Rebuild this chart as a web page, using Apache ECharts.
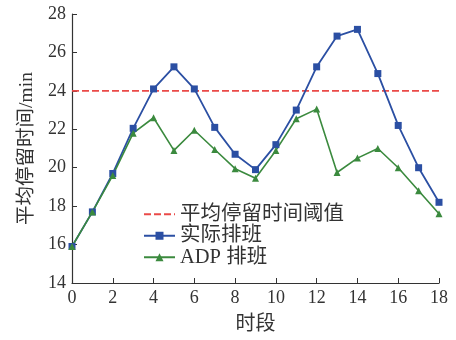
<!DOCTYPE html>
<html><head><meta charset="utf-8">
<script src="https://cdn.jsdelivr.net/npm/echarts@6/dist/echarts.min.js"></script>
<style>html,body{margin:0;padding:0;background:#fff}#c{width:456px;height:340px}</style>
</head><body><div id="c"></div>
<script>
const periods = [0,1,2,3,4,5,6,7,8,9,10,11,12,13,14,15,16,17,18];
const actual = [15.9,17.7,19.7,22.05,24.1,25.25,24.1,22.1,20.7,19.9,21.2,23.0,25.25,26.85,27.2,24.9,22.2,20.0,18.2];
const adp = [15.9,17.7,19.6,21.8,22.6,20.9,21.95,20.95,19.95,19.45,20.9,22.55,23.05,19.75,20.5,21.0,20.0,18.8,17.6];
const thresholdX = [0,18];
const thresholdY = [24,24];
const names = ['平均停留时间阈值','实际排班','ADP 排班'];
const font = '"Liberation Serif","Noto Sans CJK SC",serif';
const chart = echarts.init(document.getElementById('c'));
chart.setOption({
  animation:false,
  textStyle:{fontFamily:font},
  grid:{left:72,right:17,top:14,bottom:56},
  legend:{
    orient:'vertical',left:138,top:199,itemGap:1,itemWidth:31,itemHeight:10,
    textStyle:{fontFamily:font,fontSize:20.5,color:'#333'},
    data:[{name:names[0],itemStyle:{opacity:0}},names[1],names[2]]
  },
  xAxis:{type:'value',min:0,max:18,interval:2,name:'时段',nameLocation:'middle',nameGap:32,
    nameTextStyle:{fontFamily:font,fontSize:20,color:'#333'},
    axisLine:{lineStyle:{color:'#333',width:1.2}},
    axisTick:{inside:true,length:5,lineStyle:{color:'#333'}},
    axisLabel:{fontFamily:font,fontSize:18,color:'#333',margin:6},
    splitLine:{show:false}},
  yAxis:{type:'value',min:14,max:28,interval:2,name:'平均停留时间/min',nameLocation:'middle',nameGap:32,
    nameTextStyle:{fontFamily:font,fontSize:19.5,color:'#333'},
    axisLine:{show:true,lineStyle:{color:'#333',width:1.2}},
    axisTick:{show:true,inside:true,length:5,lineStyle:{color:'#333'}},
    axisLabel:{fontFamily:font,fontSize:18,color:'#333',margin:6},
    splitLine:{show:false}},
  series:[
    {name:names[0],type:'line',symbol:'none',data:thresholdX.map((x,i)=>[x,thresholdY[i]]),
     lineStyle:{color:'#ea4a48',type:[7,3],width:1.8},itemStyle:{color:'#ea4a48'}},
    {name:names[1],type:'line',symbol:'rect',symbolSize:7,data:periods.map((x,i)=>[x,actual[i]]),
     lineStyle:{color:'#2b4fa3',width:1.8},itemStyle:{color:'#2b4fa3'}},
    {name:names[2],type:'line',symbol:'triangle',symbolSize:7,data:periods.map((x,i)=>[x,adp[i]]),
     lineStyle:{color:'#3b8a3e',width:1.6},itemStyle:{color:'#3b8a3e'}}
  ]
});
</script></body></html>
